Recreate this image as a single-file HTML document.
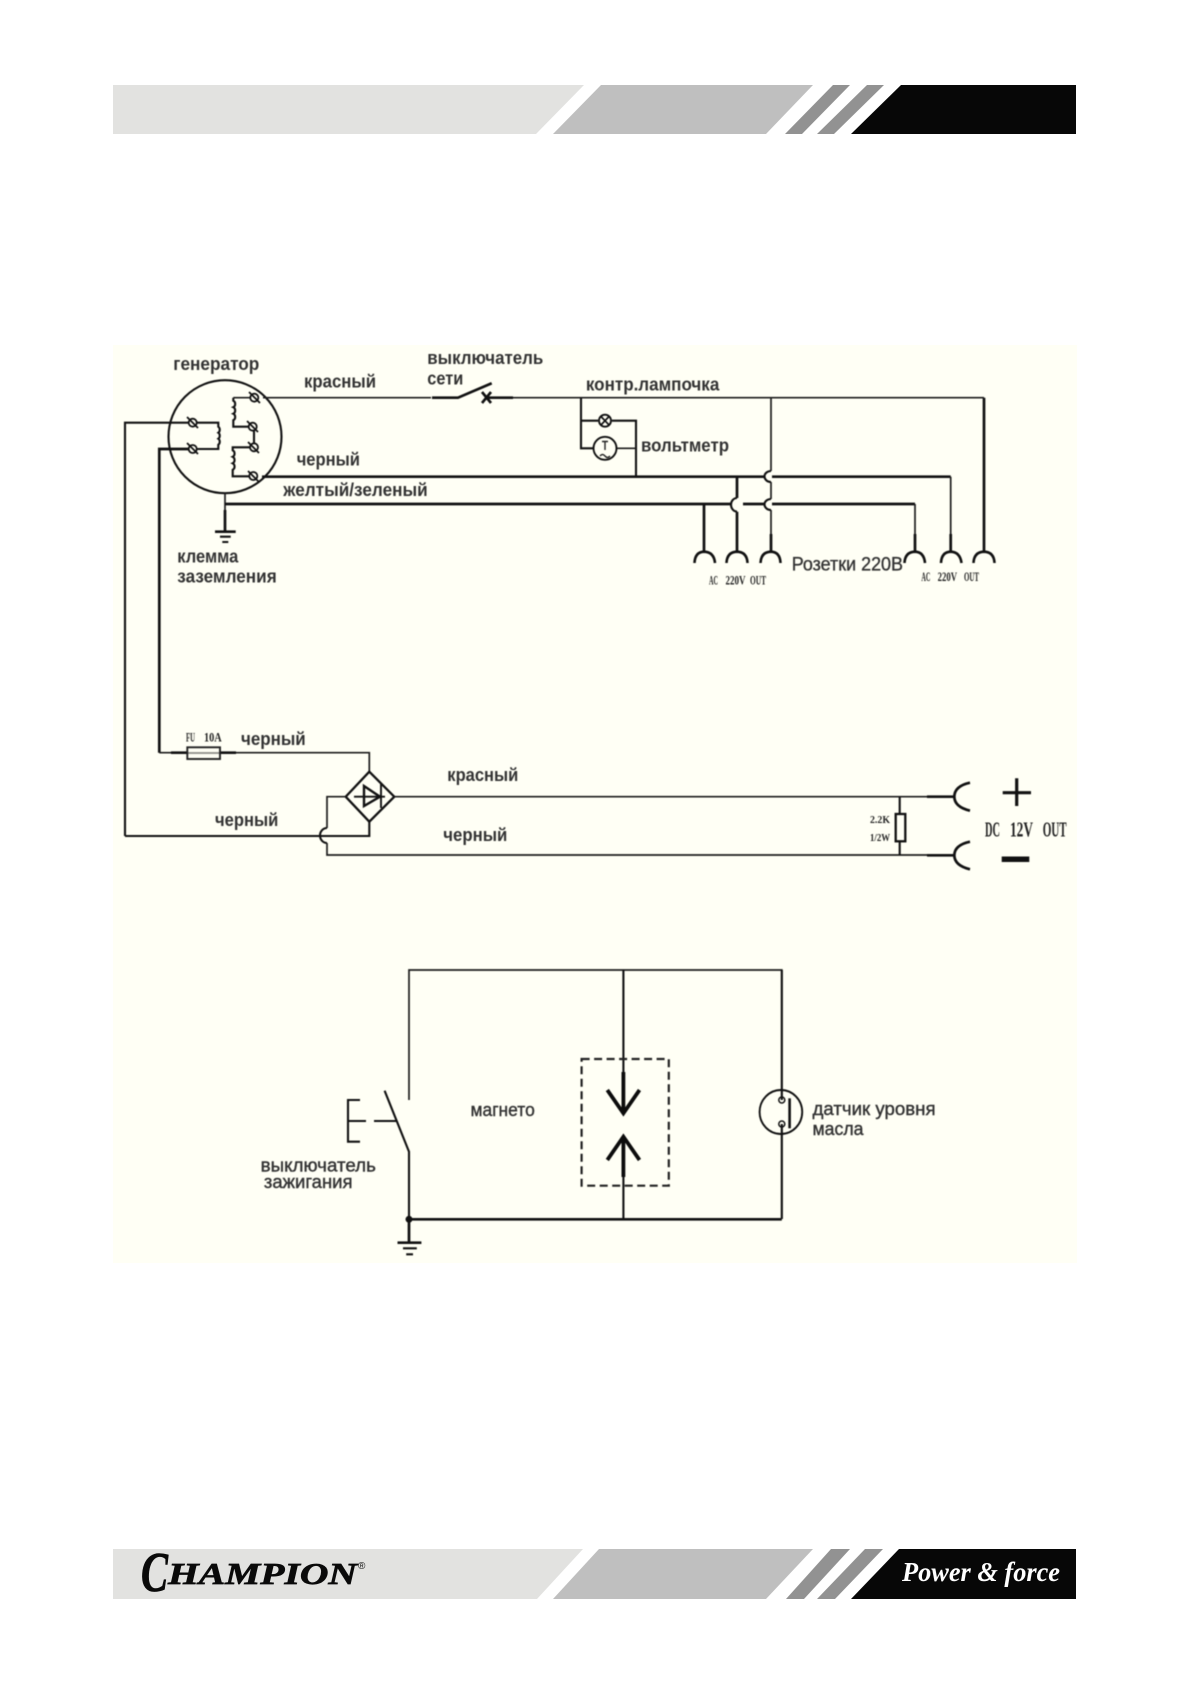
<!DOCTYPE html>
<html lang="ru"><head><meta charset="utf-8"><title>Схема</title>
<style>
html,body{margin:0;padding:0;background:#fff;width:1191px;height:1684px;overflow:hidden}
svg{display:block}
.w{fill:none;stroke:#1c1c1c;stroke-width:1.7}
.t{fill:none;stroke:#111;stroke-width:2.7}
.m{fill:none;stroke:#111;stroke-width:2.1}
.l{font-family:"Liberation Sans",sans-serif;font-weight:bold;font-size:18px;fill:#333}
.r{font-family:"Liberation Sans",sans-serif;font-size:19px;fill:#333;stroke:#333;stroke-width:.35}
.n{font-family:"Liberation Sans",sans-serif;font-size:18.5px;fill:#333;stroke:#333;stroke-width:.4}
.c{font-family:"Liberation Serif",serif;font-weight:bold;fill:#222}
</style></head><body>
<svg xmlns="http://www.w3.org/2000/svg" width="1191" height="1684" viewBox="0 0 1191 1684">
<rect width="1191" height="1684" fill="#fff"/>
<!-- header -->
<g>
<polygon points="113,85 584,85 536,134 113,134" fill="#e2e2e0"/>
<polygon points="601,85 813,85 766,134 553,134" fill="#bfbfbf"/>
<polygon points="833,85 850,85 802,134 785,134" fill="#929292"/>
<polygon points="867,85 884,85 834,134 817,134" fill="#929292"/>
<polygon points="901,85 1076,85 1076,134 851,134" fill="#070707"/>
</g>
<!-- footer -->
<g>
<polygon points="113,1549 583,1549 537,1599 113,1599" fill="#e2e2e0"/>
<polygon points="599,1549 813,1549 766,1599 553,1599" fill="#bfbfbf"/>
<polygon points="831,1549 850,1549 804,1599 786,1599" fill="#929292"/>
<polygon points="865,1549 883,1549 835,1599 817,1599" fill="#929292"/>
<polygon points="899,1549 1076,1549 1076,1599 851,1599" fill="#070707"/>
<text x="141" y="1591" font-family="Liberation Serif,serif" font-weight="bold" font-style="italic" font-size="56" fill="#0a0a0a" stroke="#0a0a0a" stroke-width=".8" textLength="27" lengthAdjust="spacingAndGlyphs">C</text>
<text x="168" y="1584" font-family="Liberation Serif,serif" font-weight="bold" font-style="italic" font-size="31" fill="#0a0a0a" stroke="#0a0a0a" stroke-width=".7" textLength="189" lengthAdjust="spacingAndGlyphs">HAMPION</text>
<text x="358" y="1569" font-family="Liberation Sans,sans-serif" font-size="10" fill="#0a0a0a">®</text>
<text x="902" y="1581" font-family="Liberation Serif,serif" font-weight="bold" font-style="italic" font-size="27" fill="#fff" textLength="158" lengthAdjust="spacingAndGlyphs">Power &amp; force</text>
</g>
<!-- panel -->
<rect x="113" y="345" width="964" height="918" fill="#fffff5"/>
<g style="filter:blur(.5px)">
<!-- generator -->
<circle cx="225" cy="436.7" r="56.5" class="m"/>
<path class="w" d="M263 397.7H431M512 397.7H984M233.3 397.7H250"/>
<path class="t" d="M432 397.7H458L491.7 383.3"/>
<path class="t" d="M482 392l9 11M491 392l-9 11M487 397.7H513"/>
<!-- coils -->
<path class="m" d="M233.3 397.7v3a3 3.500 0 0 1 0 6.500a3 3.500 0 0 1 0 6.500a3 3.500 0 0 1 0 6.500v6.500H249"/>
<path class="m" d="M254 430V444"/>
<path class="m" d="M250 447.3H232.7v3a3 3.500 0 0 1 0 6.500a3 3.500 0 0 1 0 6.500a3 3.500 0 0 1 0 6.500v6.500H249"/>
<path class="m" d="M125 836V422.7H189M197 422.7H218.3v4a3 3.500 0 0 1 0 6a3 3.500 0 0 1 0 6a3 3.500 0 0 1 0 6v4.300H197"/>
<path class="t" d="M159.3 752.7V449H189"/>
<g fill="none" stroke="#111" stroke-width="1.8">
<circle cx="254.3" cy="397.7" r="4"/><path d="M249 392l11 11"/>
<circle cx="252.7" cy="426.7" r="4"/><path d="M247 421l11 11"/>
<circle cx="254" cy="447.3" r="4"/><path d="M248 442l11 11"/>
<circle cx="253.3" cy="476" r="4"/><path d="M248 471l11 11"/>
<circle cx="192.7" cy="422.7" r="4"/><path d="M187 417l11 11"/>
<circle cx="192.7" cy="449" r="4"/><path d="M187 443l11 11"/>
</g>
<!-- ground 1 -->
<path class="w" d="M225 493V510"/>
<path class="t" d="M225 510V531.7M215 531.7H235.7"/>
<path class="m" d="M220 536.7H230.7M222.3 542H228.3"/>
<!-- main wires -->
<path class="t" d="M262 476.7H764M772 476.7H950.7"/>
<path class="t" d="M225 504H731M743 504H764M772 504H915"/>
<path class="w" d="M950.7 476.7V534M915 504V534"/>
<path class="t" d="M950.7 534V551.7M915 534V551.7M771 534V551.7M984 397.7V551.7M737 511.7V551.7M737 476.7V498M704 504V551.7"/>
<path class="m" d="M737 498a6 6.800 0 0 0 0 13.600"/>
<path class="w" d="M771 397.7V471M771 482V499M771 510V534"/>
<path class="m" d="M771 471a6.500 5.500 0 0 0 0 11M771 499a6.500 5.500 0 0 0 0 11"/>
<!-- sockets -->
<g fill="none" stroke="#111" stroke-width="2.6">
<path d="M694.500 563Q695 552 704 551.700Q714 552 715 563M726.500 563Q727 552 737 551.700Q747 552 747.500 563M760.500 563Q761 552 771 551.700Q780 552 780.500 563M904.500 563Q905 552 915 551.700Q924 552 925 563M941 563Q941.500 552 950.700 551.700Q960 552 961.500 563M973.500 563Q974 552 984 551.700Q994 552 994.500 563"/>
</g>
<!-- lamp / voltmeter -->
<path class="m" d="M581 397.7V448.3H594M581 420.7H598M612 420.7H636V476.7"/>
<path class="w" d="M616.500 448.3H636"/>
<circle cx="605" cy="420.7" r="6" fill="none" stroke="#111" stroke-width="1.9"/>
<path d="M601 416.500l8 8.400M609 416.500l-8 8.400" stroke="#111" stroke-width="1.700" fill="none"/>
<circle cx="605" cy="448.3" r="11.500" fill="none" stroke="#111" stroke-width="1.900"/>
<path d="M602 441.500H608M605 441.500V450M600 456q2.500-3 5 0t5 0" stroke="#222" stroke-width="1.400" fill="none"/>
<!-- DC section -->
<path class="w" d="M159.300 752.700H187M220 752.700H369.300V771.700"/>
<path class="t" d="M171 752.700H187M220 752.700H236"/>
<rect x="187.300" y="747.300" width="32.700" height="11.700" fill="none" stroke="#222" stroke-width="1.900"/>
<path class="w" d="M187 753H220" stroke-opacity=".5"/>
<path d="M369.300 771.700L394.300 796.700L369.300 821.700L345.700 796.700Z" fill="none" stroke="#111" stroke-width="2.300"/>
<path d="M354 796.700H385M381 784V808" fill="none" stroke="#111" stroke-width="1.900"/>
<path d="M364 786V806L380 796.700Z" fill="none" stroke="#111" stroke-width="2.400"/>
<path class="w" d="M394.300 796.700H953M345.700 796.700H327V828M327 843V855H953"/>
<path class="m" d="M125 836H320M320 836H369.300V821.700"/>
<path class="m" d="M327 828a7 7.500 0 0 0 0 15"/>
<path class="t" d="M927 796.700H954M927 855.300H954"/>
<path class="t" d="M970 782.700Q954.500 786 954.300 796.700Q954.500 807 970 810.700M970 841.700Q954.500 845 954.300 855.300Q954.500 865.500 970 869.300"/>
<path class="m" d="M899.700 796.700V855"/>
<rect x="895.700" y="814" width="9.600" height="27.300" fill="#fffff5" stroke="#111" stroke-width="2.300"/>
<path d="M1002.700 792.700H1031M1016.700 778.300V806" stroke="#111" stroke-width="3.200" fill="none"/>
<path d="M1001.700 859.300H1029.300" stroke="#111" stroke-width="5.500" fill="none"/>
<!-- ignition -->
<path class="w" d="M409 1100V970H781.800V1100M781.800 1124V1219"/>
<path class="m" d="M623.400 970V1100M623.400 1176V1219M781.800 1100V970M781.800 1124V1219"/>
<path class="m" d="M384.600 1090.700L409 1151.700V1219"/>
<path class="m" d="M360 1100H348V1141.700H360M348 1121H366M374 1121H397"/>
<path class="t" d="M409 1219.300H781.800M409 1222V1242.700M397.500 1242.700H421.400"/>
<circle cx="409" cy="1219.300" r="3.500" fill="#111"/>
<path class="m" d="M403 1248.300H416.800M406.200 1254.300H413"/>
<rect x="581.600" y="1059" width="87.200" height="126.700" fill="none" stroke="#222" stroke-width="2.200" stroke-dasharray="8 4.500"/>
<path d="M623.400 1072V1113M607.300 1090L623.400 1113.300L639.500 1090M623.400 1177V1137M607.300 1160L623.400 1136.700L639.500 1160" fill="none" stroke="#0c0c0c" stroke-width="3.800"/>
<ellipse cx="780.900" cy="1112" rx="21.300" ry="22" fill="none" stroke="#111" stroke-width="1.900"/>
<circle cx="781.800" cy="1100" r="3" fill="none" stroke="#111" stroke-width="1.500"/>
<circle cx="781.800" cy="1124" r="3" fill="none" stroke="#111" stroke-width="1.500"/>
<path d="M789.600 1098.300V1128.300" stroke="#111" stroke-width="2.600" fill="none"/>
<!-- labels -->
<text class="l" x="173.300" y="370" textLength="86" lengthAdjust="spacingAndGlyphs">генератор</text>
<text class="l" x="304" y="387.300" textLength="72" lengthAdjust="spacingAndGlyphs">красный</text>
<text class="l" x="427.300" y="364" textLength="116" lengthAdjust="spacingAndGlyphs">выключатель</text>
<text class="l" x="427.300" y="384.300" textLength="36" lengthAdjust="spacingAndGlyphs">сети</text>
<text class="l" x="296.700" y="465.300" textLength="63.300" lengthAdjust="spacingAndGlyphs">черный</text>
<text class="l" x="283.300" y="496" textLength="144.400" lengthAdjust="spacingAndGlyphs">желтый/зеленый</text>
<text class="l" x="177.300" y="562.300" textLength="61" lengthAdjust="spacingAndGlyphs">клемма</text>
<text class="l" x="177.300" y="582.700" textLength="99.400" lengthAdjust="spacingAndGlyphs">заземления</text>
<text class="l" x="585.900" y="390.700" textLength="133.400" lengthAdjust="spacingAndGlyphs">контр.лампочка</text>
<text class="l" x="641" y="451.700" textLength="88" lengthAdjust="spacingAndGlyphs">вольтметр</text>
<text class="r" x="791.700" y="570.700" textLength="111.300" lengthAdjust="spacingAndGlyphs">Розетки 220В</text>
<g class="c" font-size="13">
<text x="709" y="584.300" textLength="9" lengthAdjust="spacingAndGlyphs">AC</text>
<text x="725.500" y="584.300" textLength="20" lengthAdjust="spacingAndGlyphs">220V</text>
<text x="750" y="584.300" textLength="16" lengthAdjust="spacingAndGlyphs">OUT</text>
<text x="921.400" y="581" textLength="9" lengthAdjust="spacingAndGlyphs">AC</text>
<text x="937.600" y="581" textLength="19.400" lengthAdjust="spacingAndGlyphs">220V</text>
<text x="964" y="581" textLength="15" lengthAdjust="spacingAndGlyphs">OUT</text>
<text x="186" y="741.700" textLength="9" lengthAdjust="spacingAndGlyphs">FU</text>
<text x="204" y="741.700" textLength="17.700" lengthAdjust="spacingAndGlyphs">10A</text>
</g>
<text class="l" x="241" y="745" textLength="64.700" lengthAdjust="spacingAndGlyphs">черный</text>
<text class="l" x="447.300" y="781" textLength="71" lengthAdjust="spacingAndGlyphs">красный</text>
<text class="l" x="215" y="826" textLength="63.300" lengthAdjust="spacingAndGlyphs">черный</text>
<text class="l" x="443.300" y="841" textLength="64" lengthAdjust="spacingAndGlyphs">черный</text>
<text class="c" x="870" y="823" font-size="10" textLength="20" lengthAdjust="spacingAndGlyphs">2.2K</text>
<text class="c" x="870" y="841" font-size="10" textLength="20" lengthAdjust="spacingAndGlyphs">1/2W</text>
<g class="c" font-size="21">
<text x="985" y="836.700" textLength="15" lengthAdjust="spacingAndGlyphs">DC</text>
<text x="1010" y="836.700" textLength="23" lengthAdjust="spacingAndGlyphs">12V</text>
<text x="1042.700" y="836.700" textLength="24" lengthAdjust="spacingAndGlyphs">OUT</text>
</g>
<text class="n" x="470.500" y="1116" textLength="64.300" lengthAdjust="spacingAndGlyphs">магнето</text>
<text class="n" x="812.500" y="1115" textLength="123.100" lengthAdjust="spacingAndGlyphs">датчик уровня</text>
<text class="n" x="812.500" y="1135" textLength="51" lengthAdjust="spacingAndGlyphs">масла</text>
<text class="n" x="260.700" y="1171.700" textLength="115.200" lengthAdjust="spacingAndGlyphs">выключатель</text>
<text class="n" x="263.900" y="1188" textLength="88.600" lengthAdjust="spacingAndGlyphs">зажигания</text>
</g>
</svg>
</body></html>
